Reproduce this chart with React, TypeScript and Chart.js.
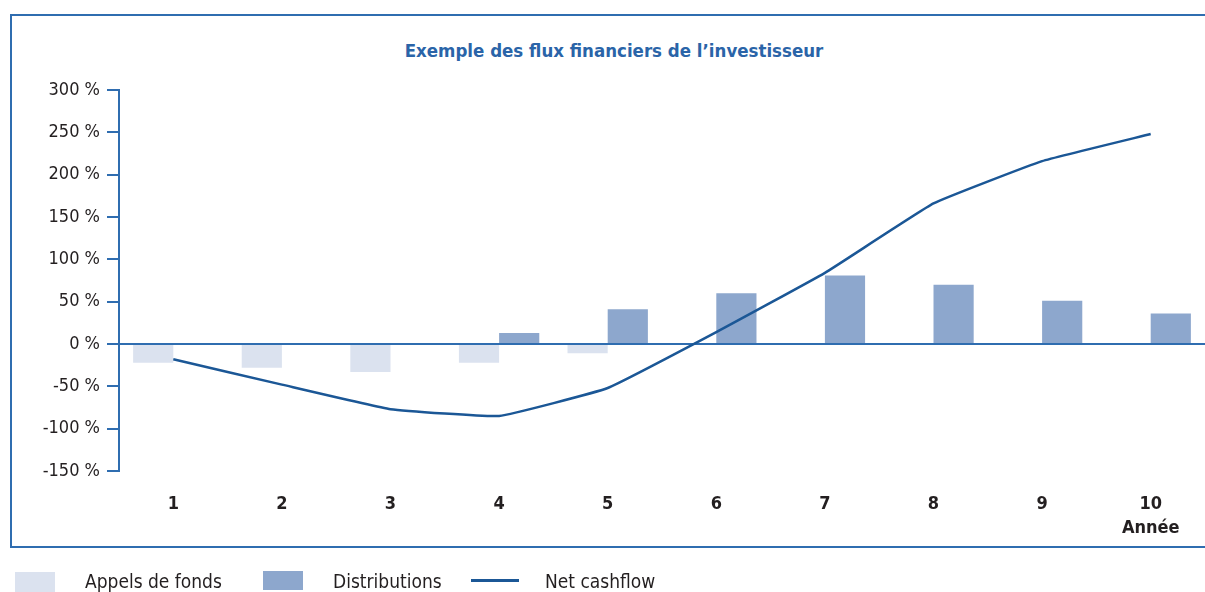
import React, { useEffect, useRef } from "react";
import { Chart, registerables } from "chart.js";

Chart.register(...registerables);

const years: (string | string[])[] = ["1", "2", "3", "4", "5", "6", "7", "8", "9", ["10", "Année"]];
const appelsDeFonds: (number | null)[] = [-22, -28, -33, -22, -11, null, null, null, null, null];
const distributions: (number | null)[] = [null, null, null, 13, 41, 60, 81, 70, 51, 36];
const netCashflow: number[] = [-18, -48, -77, -85, -52, 14, 84, 166, 216, 248];

const FONT = "'Liberation Sans Narrow', 'DejaVu Sans Condensed', 'Liberation Sans', sans-serif";
const BLUE_AXIS = "#2f6db0";
const LINE_BLUE = "#1b5796";
const APPELS_COLOR = "#dbe2ef";
const DIST_COLOR = "#8da7cd";
const TEXT = "#231f20";

export default function App() {
  const canvasRef = useRef<HTMLCanvasElement>(null);

  useEffect(() => {
    const canvas = canvasRef.current;
    if (!canvas) return;
    const chart = new Chart(canvas, {
      type: "bar",
      data: {
        labels: years,
        datasets: [
          {
            type: "line",
            label: "Net cashflow",
            data: netCashflow,
            borderColor: LINE_BLUE,
            borderWidth: 2.5,
            pointRadius: 0,
            tension: 0.1,
            order: 0,
          },
          {
            type: "bar",
            label: "Appels de fonds",
            data: appelsDeFonds,
            backgroundColor: APPELS_COLOR,
            categoryPercentage: 0.74,
            barPercentage: 1.0,
            order: 1,
          },
          {
            type: "bar",
            label: "Distributions",
            data: distributions,
            backgroundColor: DIST_COLOR,
            categoryPercentage: 0.74,
            barPercentage: 1.0,
            order: 1,
          },
        ],
      },
      options: {
        responsive: false,
        animation: false,
        devicePixelRatio: 1,
        layout: { padding: { top: 90, bottom: 46, left: 0, right: 0 } },
        plugins: {
          legend: { display: false },
          title: { display: false },
          tooltip: { enabled: false },
        },
        scales: {
          x: {
            offset: true,
            grid: { display: false },
            border: { display: false },
            ticks: {
              color: TEXT,
              padding: 14,
              maxRotation: 0,
              font: { family: FONT, size: 18, weight: "bold", lineHeight: 1.3 },
            },
            afterFit: (scale: any) => {
              scale.height = 75;
            },
          },
          y: {
            min: -150,
            max: 300,
            ticks: {
              stepSize: 50,
              color: TEXT,
              padding: 7,
              font: { family: FONT, size: 18 },
              callback: (v: any) => `${v} %`,
            },
            grid: {
              drawOnChartArea: true,
              drawTicks: true,
              tickLength: 12,
              tickColor: BLUE_AXIS,
              lineWidth: 2,
              color: (ctx: any) => (ctx.tick && ctx.tick.value === 0 ? BLUE_AXIS : "rgba(0,0,0,0)"),
            },
            border: { display: true, color: BLUE_AXIS, width: 2 },
            afterFit: (scale: any) => {
              scale.width = 119;
            },
          },
        },
      },
    });
    return () => chart.destroy();
  }, []);

  const legendText: React.CSSProperties = {
    position: "absolute",
    fontFamily: FONT,
    fontSize: 19,
    color: TEXT,
    lineHeight: "20px",
    top: 571,
    whiteSpace: "nowrap",
  };

  return (
    <div
      style={{
        position: "absolute",
        left: 0,
        top: 0,
        width: 1205,
        height: 592,
        overflow: "hidden",
        background: "#ffffff",
      }}
    >
      <div
        style={{
          position: "absolute",
          left: 10,
          top: 14,
          width: 1220,
          height: 534,
          border: `2px solid ${BLUE_AXIS}`,
          boxSizing: "border-box",
        }}
      />
      <div
        style={{
          position: "absolute",
          left: 0,
          top: 40,
          width: 1228,
          textAlign: "center",
          fontFamily: FONT,
          fontWeight: "bold",
          fontSize: 18.5,
          lineHeight: "22px",
          color: "#2a64a8",
        }}
      >
        Exemple des flux financiers de l’investisseur
      </div>
      <canvas
        ref={canvasRef}
        width={1205}
        height={592}
        style={{ position: "absolute", left: 0, top: 0, width: 1205, height: 592 }}
      />
      <div style={{ position: "absolute", left: 15, top: 572, width: 40, height: 22, background: APPELS_COLOR }} />
      <div style={{ ...legendText, left: 85 }}>Appels de fonds</div>
      <div style={{ position: "absolute", left: 263, top: 571, width: 40, height: 19, background: DIST_COLOR }} />
      <div style={{ ...legendText, left: 333 }}>Distributions</div>
      <div style={{ position: "absolute", left: 471, top: 579, width: 48, height: 3, background: LINE_BLUE }} />
      <div style={{ ...legendText, left: 545 }}>Net cashflow</div>
    </div>
  );
}
